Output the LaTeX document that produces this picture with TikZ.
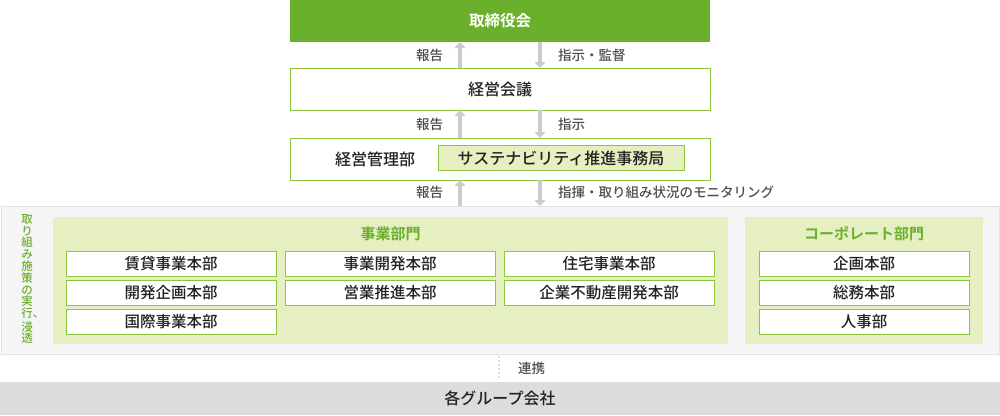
\documentclass[tikz,border=0pt]{standalone}
\usepackage{fontspec}
\setmainfont{Noto Sans CJK JP}[UprightFont=* Medium, BoldFont=* Bold]
\usetikzlibrary{positioning,arrows.meta}
\definecolor{leaf}{HTML}{6AB02C}
\definecolor{leafline}{HTML}{8CC63F}
\definecolor{leaffill}{HTML}{E5EFC1}
\definecolor{panelgray}{HTML}{F5F5F5}
\definecolor{panelline}{HTML}{E3E3E3}
\definecolor{flowgray}{HTML}{CCCCCC}
\definecolor{bargray}{HTML}{DCDCDC}
\definecolor{inktext}{HTML}{222222}
\tikzset{
  % Specifications for style of nodes:
  base/.style = {
    rectangle,
    inner sep=0pt,
    outer sep=0pt,
    text centered,
    text=inktext
  },
  board/.style = {
    base,
    minimum width=420pt,
    minimum height=42pt,
    fill=leaf,
    text=white,
    font=\bfseries\fontsize{15.5}{15.5}\selectfont
  },
  council/.style = {
    base,
    minimum width=420pt,
    minimum height=42pt,
    draw=leafline,
    line width=1pt,
    fill=white,
    font=\fontsize{16}{16}\selectfont
  },
  secretariat/.style = {
    base,
    minimum width=246pt,
    minimum height=25pt,
    draw=leafline,
    line width=1pt,
    fill=leaffill,
    font=\fontsize{16}{16}\selectfont
  },
  panel/.style = {
    base,
    minimum width=998pt,
    minimum height=148pt,
    fill=panelgray,
    draw=panelline,
    line width=1pt
  },
  division/.style = {
    base,
    minimum height=127pt,
    fill=leaffill
  },
  heading/.style = {
    base,
    text=leaf,
    font=\bfseries\fontsize{15}{15}\selectfont
  },
  unit/.style = {
    base,
    minimum width=210pt,
    minimum height=25pt,
    draw=leafline,
    line width=1pt,
    fill=white,
    font=\fontsize{15.5}{15.5}\selectfont,
    node distance=4pt and 9pt
  },
  note/.style = {
    base,
    text=inktext!80,
    font=\fontsize{13.5}{13.5}\selectfont
  },
  % Specifications for style of connectors:
  flow/.style = {
    draw=flowgray,
    line width=4pt,
    -{Triangle[width=11pt,length=6pt]}
  },
  link/.style = {
    draw=flowgray,
    line width=2pt,
    line cap=round,
    dash pattern=on 0pt off 4pt
  },
}
\begin{document}
\begin{tikzpicture}[x=1pt, y=-1pt]
    \useasboundingbox (0,0) rectangle (1000,415);
    % Management levels
    \node[board]                                  (board)     at (500,21)    {取締役会};
    \node[council]                                (meeting)   at (500,89)    {経営会議};
    \node[council]                                (admin)     at (500,159)   {};
    \node[base, font=\fontsize{16}{16}\selectfont] (adminname) at (375,159)   {経営管理部};
    \node[secretariat]                            (office)    at (561,158)   {サステナビリティ推進事務局};
    % Execution panel
    \node[panel]                                  (outer)     at (500,280)   {};
    \node[base, align=center, text=leaf, font=\fontsize{11.5}{11.8}\selectfont]
                                                  (spread)    at (27,279)
      {取\\り\\組\\み\\施\\策\\の\\実\\行\rlap{、}\\[1.5pt]浸\\透};
    \node[division, minimum width=675pt]          (business)  at (390.5,280.5) {};
    \node[division, minimum width=238pt]          (corporate) at (864,280.5)   {};
    \node[heading]                                (bizhead)   at (390.5,234) {事業部門};
    \node[heading]                                (corphead)  at (864,234)   {コーポレート部門};
    \node[unit]                                   (rental)    at (171,263.5) {賃貸事業本部};
    \node[unit, right=of rental]                  (bizdev)                   {事業開発本部};
    \node[unit, right=of bizdev]                  (housing)                  {住宅事業本部};
    \node[unit, below=of rental]                  (devplan)                  {開発企画本部};
    \node[unit, below=of bizdev]                  (sales)                    {営業推進本部};
    \node[unit, below=of housing]                 (corpestate)               {企業不動産開発本部};
    \node[unit, below=of devplan]                 (global)                   {国際事業本部};
    \node[unit]                                   (planning)  at (864,263.5) {企画本部};
    \node[unit, below=of planning]                (general)                  {総務本部};
    \node[unit, below=of general]                 (personnel)                {人事部};
    % Group companies
    \node[base, minimum width=1000pt, minimum height=33pt, fill=bargray, font=\fontsize{16}{16}\selectfont]
                                                  (group)     at (500,398.5) {各グループ会社};
    % Connectors
    \draw[flow] ([xshift=-40pt]meeting.north) -- ([xshift=-40pt]board.south);
    \draw[flow] ([xshift=40pt]board.south)    -- ([xshift=40pt]meeting.north);
    \draw[flow] ([xshift=-40pt]admin.north)   -- ([xshift=-40pt]meeting.south);
    \draw[flow] ([xshift=40pt]meeting.south)  -- ([xshift=40pt]admin.north);
    \draw[flow] ([xshift=-40pt]outer.north)   -- ([xshift=-40pt]admin.south);
    \draw[flow] ([xshift=40pt]admin.south)    -- ([xshift=40pt]outer.north);
    \draw[link] ([xshift=-1pt,yshift=-3pt]outer.south) -- ([xshift=-1pt,yshift=3pt]group.north);
    % Connector labels
    \node[note, anchor=east] (report1) at (443,55)  {報告};
    \node[note, anchor=west] (order1)  at (558,55)  {指示・監督};
    \node[note, anchor=east] (report2) at (443,124) {報告};
    \node[note, anchor=west] (order2)  at (558,124) {指示};
    \node[note, anchor=east] (report3) at (443,192) {報告};
    \node[note, anchor=west] (order3)  at (558,192) {指揮・取り組み状況のモニタリング};
    \node[note, anchor=west] (cooperate) at (518,368) {連携};
\end{tikzpicture}
\end{document}
